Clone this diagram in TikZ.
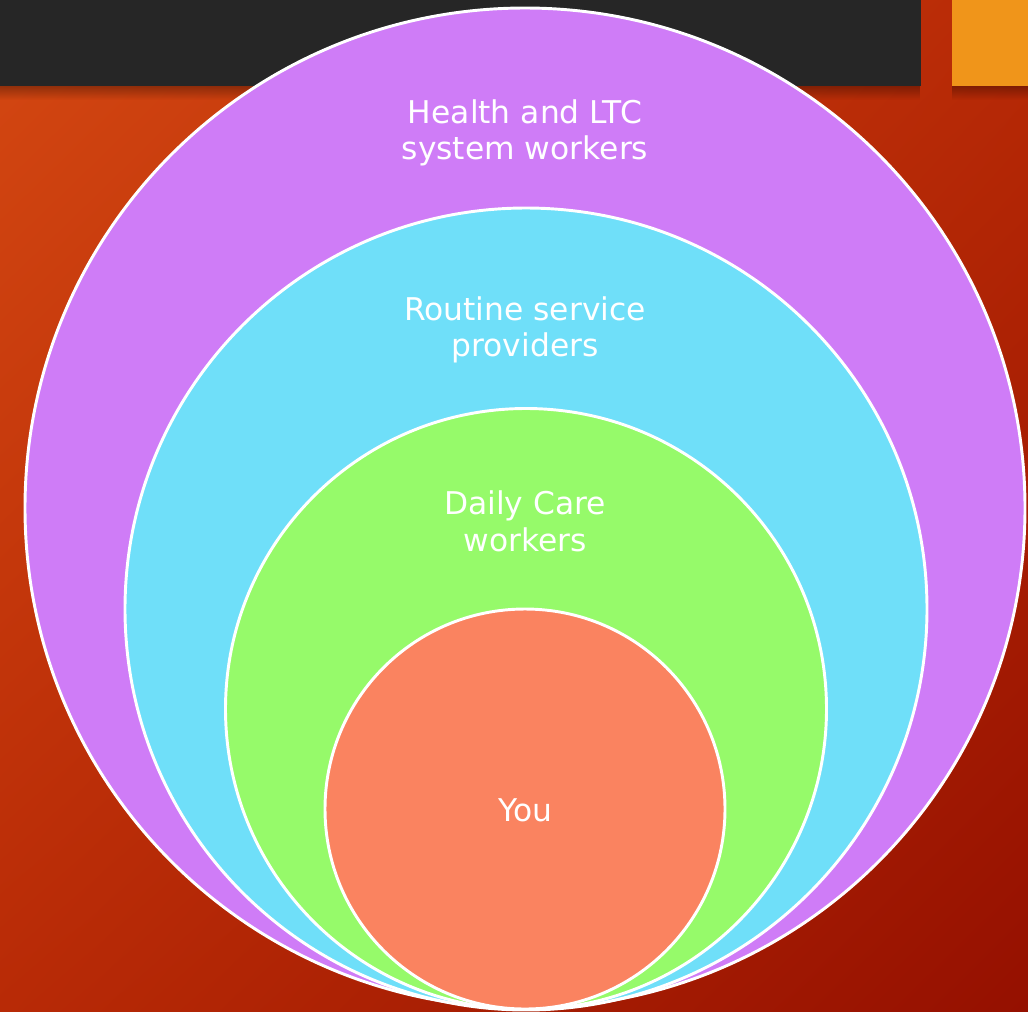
\documentclass[tikz,border=0pt]{standalone}
\usepackage{fontspec}
\setmainfont{DejaVu Sans}
\usetikzlibrary{shadings,fadings}
\definecolor{bgA}{HTML}{D44812}
\definecolor{bgB}{HTML}{B82A06}
\definecolor{bgC}{HTML}{951000}
\definecolor{barDark}{HTML}{262626}
\definecolor{barOrange}{HTML}{F0951A}
\definecolor{cPurple}{HTML}{CF7CF7}
\definecolor{cCyan}{HTML}{6FDFF9}
\definecolor{cGreen}{HTML}{96FA6A}
\definecolor{cSalmon}{HTML}{FA8360}
\tikzset{
  ring/.style={circle, draw=white, line width=2.2pt, inner sep=0pt, minimum size=#1},
  lbl/.style={text=white, align=center, font=\fontsize{23.5}{27.5}\selectfont},
  barshadow/.style={fill=black, path fading=south, opacity=0.3},
}
\begin{document}
\begin{tikzpicture}[x=0.75pt,y=-0.75pt]
\useasboundingbox (0,0) rectangle (1028,1011);
\shade[upper left=bgA, upper right=bgB, lower left=bgB, lower right=bgC] (0,0) rectangle (1028,1011);
\fill[barshadow] (0,86) rectangle (921,100);
\fill[barshadow] (952,86) rectangle (1028,100);
\fill[barDark] (0,0) rectangle (921,86);
\fill[barOrange] (952,0) rectangle (1028,86);
\node[ring=1000*0.75pt, fill=cPurple] (c1) at (525,508) {};
\node[ring=802*0.75pt, fill=cCyan] (c2) at (526,609) {};
\node[ring=601*0.75pt, fill=cGreen] (c3) at (526,709) {};
\node[ring=400*0.75pt, fill=cSalmon] (c4) at (525,809) {};
\node[lbl] (t1) at (525,133) {Health and LTC\\system workers};
\node[lbl] (t2) at (525,330) {Routine service\\providers};
\node[lbl] (t3) at (525,521) {Daily Care\\workers};
\node[lbl] (t4) at (525,810) {You};
\end{tikzpicture}
\end{document}
